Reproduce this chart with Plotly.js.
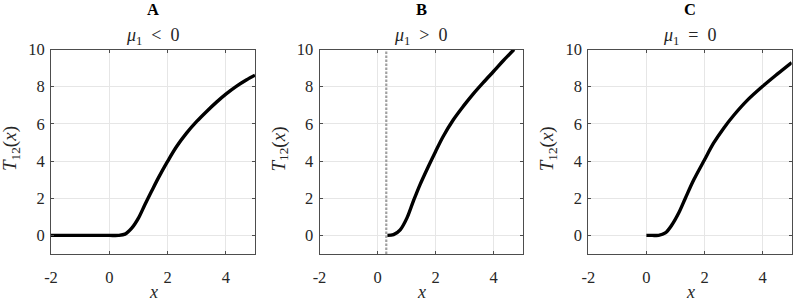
<!DOCTYPE html>
<html>
<head>
<meta charset="utf-8">
<script src="https://cdn.plot.ly/plotly-3.0.1.min.js"></script>
<style>html,body{margin:0;padding:0;background:#fff}</style>
</head>
<body>
<div id="chart"></div>
<script>
// Panel A: mu1 < 0
const xA = [-2, -1, 0, 0.31, 0.54, 0.77, 1.0, 1.22, 1.45, 1.68, 2.0, 2.31, 2.65, 3.0, 3.34, 3.68, 4.0, 4.37, 4.7, 5.0];
const yA = [0, 0, 0, 0, 0.07, 0.39, 0.93, 1.65, 2.37, 3.08, 3.98, 4.78, 5.5, 6.13, 6.67, 7.17, 7.6, 8.03, 8.36, 8.62];
// Panel B: mu1 > 0
const xB = [0.34, 0.55, 0.78, 1.01, 1.23, 1.46, 1.75, 2.0, 2.26, 2.61, 2.95, 3.29, 3.63, 4.0, 4.32, 4.7];
const yB = [0, 0.04, 0.3, 0.93, 1.83, 2.72, 3.71, 4.52, 5.32, 6.22, 6.94, 7.6, 8.2, 8.83, 9.38, 10.0];
const vlineB = 0.3;
// Panel C: mu1 = 0
const xC = [0, 0.2, 0.42, 0.65, 0.88, 1.11, 1.34, 1.63, 2.0, 2.31, 2.66, 3.0, 3.46, 4.0, 4.49, 5.0];
const yC = [0, 0, 0, 0.13, 0.57, 1.2, 2.0, 2.99, 4.07, 4.96, 5.77, 6.45, 7.25, 8.02, 8.66, 9.3];

const xTicks = [-2, 0, 2, 4];
const xTickText = ['-2', '0', '2', '4'];
const yTicks = [0, 2, 4, 6, 8, 10];
const yTickText = ['0', '2', '4', '6', '8', '10'];
const panelLetters = ['A', 'B', 'C'];
const panelSubs = ['<i>μ</i><sub>1</sub>&#8194;&lt;&#8194;0', '<i>μ</i><sub>1</sub>&#8194;&gt;&#8194;0', '<i>μ</i><sub>1</sub>&#8194;=&#8194;0'];

function fnt(size, color) { return {family: 'Liberation Serif', size: size, color: color || '#262626'}; }
const domainsX = [[51/793, 255/793], [319.5/793, 522.7/793], [588.3/793, 791.7/793]];
const domY = [(301-254)/301, (301-49.5)/301];

function lineStyle() { return {color: '#000', width: 3.4, shape: 'spline', smoothing: 0.9}; }
const data = [
  {x: xA, y: yA, type: 'scatter', mode: 'lines', line: lineStyle(), xaxis: 'x', yaxis: 'y', hoverinfo: 'skip'},
  {x: [vlineB, vlineB], y: [-1, 10], type: 'scatter', mode: 'lines', line: {color: '#a0a0a0', width: 2.2, dash: '2.5px,1.5px'}, xaxis: 'x2', yaxis: 'y2', hoverinfo: 'skip'},
  {x: xB, y: yB, type: 'scatter', mode: 'lines', line: lineStyle(), xaxis: 'x2', yaxis: 'y2', hoverinfo: 'skip'},
  {x: xC, y: yC, type: 'scatter', mode: 'lines', line: lineStyle(), xaxis: 'x3', yaxis: 'y3', hoverinfo: 'skip'}
];

function xax(i) {
  return {domain: domainsX[i], range: [-2, 5], tickvals: xTicks, ticktext: xTickText,
    showgrid: true, gridcolor: '#e6e6e6', gridwidth: 1, zeroline: false,
    showline: true, linecolor: '#4d4d4d', linewidth: 1, mirror: 'ticks',
    ticks: 'inside', ticklen: 3, tickcolor: '#4d4d4d', tickfont: fnt(16.5), ticklabelstandoff: 8,
    anchor: i === 0 ? 'y' : 'y' + (i + 1), fixedrange: true};
}
function yax(i) {
  return {domain: domY, range: [-1, 10], tickvals: yTicks, ticktext: yTickText,
    showgrid: true, gridcolor: '#e6e6e6', gridwidth: 1, zeroline: false,
    showline: true, linecolor: '#4d4d4d', linewidth: 1, mirror: 'ticks',
    ticks: 'inside', ticklen: 3, tickcolor: '#4d4d4d', tickfont: fnt(16.5), ticklabelstandoff: 2,
    anchor: i === 0 ? 'x' : 'x' + (i + 1), fixedrange: true};
}

const annotations = [];
for (let i = 0; i < 3; i++) {
  const cx = (domainsX[i][0] + domainsX[i][1]) / 2;
  annotations.push({text: '<b>' + panelLetters[i] + '</b>', x: cx, y: 1 - 10/301, xref: 'paper', yref: 'paper',
    xanchor: 'center', yanchor: 'middle', showarrow: false, font: fnt(16.5, '#000')});
  annotations.push({text: panelSubs[i], x: cx, y: 1 - 36/301, xref: 'paper', yref: 'paper',
    xanchor: 'center', yanchor: 'middle', showarrow: false, font: fnt(18)});
  annotations.push({text: '<i>x</i>', x: cx, y: 0, xref: 'paper', yref: 'paper', yshift: -3,
    xanchor: 'center', yanchor: 'bottom', showarrow: false, font: fnt(18)});
  annotations.push({text: '<i>T</i><sub>12</sub>(<i>x</i>)', x: (domainsX[i][0] * 793 - 40) / 793, y: (301 - 149) / 301,
    xref: 'paper', yref: 'paper', xanchor: 'center', yanchor: 'middle', textangle: -90, showarrow: false,
    font: fnt(19)});
}

const layout = {
  width: 793, height: 301, margin: {l: 0, r: 0, t: 0, b: 0},
  paper_bgcolor: '#fff', plot_bgcolor: '#fff', showlegend: false, font: fnt(16),
  xaxis: xax(0), yaxis: yax(0), xaxis2: xax(1), yaxis2: yax(1), xaxis3: xax(2), yaxis3: yax(2),
  annotations: annotations
};
Plotly.newPlot('chart', data, layout, {staticPlot: true});
</script>
</body>
</html>
